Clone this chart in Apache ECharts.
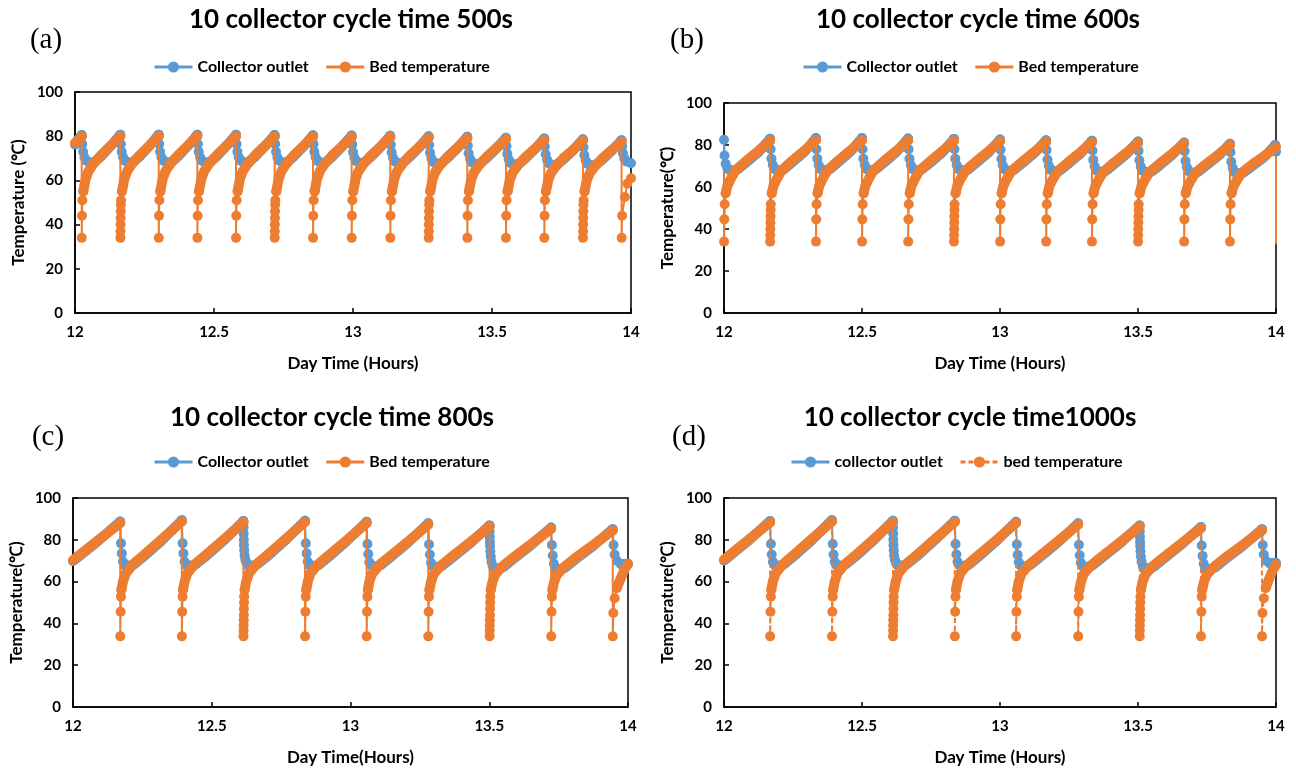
<!DOCTYPE html>
<html>
<head>
<meta charset="utf-8">
<script src="https://cdn.jsdelivr.net/npm/echarts@6/dist/echarts.min.js"></script>
<style>
html,body{margin:0;padding:0;background:#fff;}
#main{width:1296px;height:768px;}
</style>
</head>
<body>
<div id="main"></div>
<script>
// ---------------- DATA (time in hours, temperature in °C) ----------------
var panelLabels = ['(a)', '(b)', '(c)', '(d)'];
var panelTitles = ['10 collector cycle time 500s', '10 collector cycle time 600s', '10 collector cycle time 800s', '10 collector cycle time1000s'];
var collectorNames = ['Collector outlet', 'Collector outlet', 'Collector outlet', 'collector outlet'];
var bedNames = ['Bed temperature', 'Bed temperature', 'Bed temperature', 'bed temperature'];
var xAxisNames = ['Day Time (Hours)', 'Day Time (Hours)', 'Day Time(Hours)', 'Day Time (Hours)'];
var yAxisNames = ['Temperature (℃)', 'Temperature(℃)', 'Temperature(℃)', 'Temperature(℃)'];
var xTicks = [12, 12.5, 13, 13.5, 14];
var yTicks = [0, 20, 40, 60, 80, 100];

// ---- (a) 500 s ----
var aCollectorBand = [
[12.0,76.2],[12.012,78.4],[12.024,80.5],null,
[12.04,69],[12.054,68],[12.069,68.3],[12.094,70.9],[12.129,75.6],[12.163,80.7],null,
[12.179,69],[12.193,68],[12.208,68.3],[12.233,70.9],[12.268,75.6],[12.301,80.7],null,
[12.317,69],[12.331,68],[12.346,68.3],[12.371,70.9],[12.406,75.6],[12.44,80.6],null,
[12.456,69],[12.47,68],[12.485,68.3],[12.51,70.9],[12.545,75.6],[12.579,80.6],null,
[12.595,69],[12.609,68],[12.624,68.3],[12.649,70.9],[12.684,75.5],[12.718,80.5],null,
[12.734,69],[12.748,68],[12.763,68.3],[12.788,70.9],[12.823,75.5],[12.856,80.4],null,
[12.872,68.9],[12.886,67.9],[12.901,68.2],[12.926,70.8],[12.961,75.3],[12.995,80.3],null,
[13.011,68.8],[13.025,67.8],[13.04,68.1],[13.065,70.7],[13.1,75.2],[13.134,80.2],null,
[13.15,68.7],[13.164,67.7],[13.179,68],[13.204,70.6],[13.239,75.1],[13.272,80],null,
[13.288,68.5],[13.302,67.5],[13.317,67.8],[13.342,70.4],[13.377,74.8],[13.411,79.7],null,
[13.427,68.3],[13.441,67.3],[13.456,67.6],[13.481,70.1],[13.516,74.5],[13.55,79.3],null,
[13.566,68],[13.58,67.1],[13.595,67.4],[13.62,69.9],[13.655,74.2],[13.688,79],null,
[13.704,67.8],[13.718,66.9],[13.733,67.2],[13.758,69.6],[13.793,73.8],[13.827,78.6],null,
[13.843,67.6],[13.857,66.7],[13.872,67],[13.897,69.4],[13.932,73.6],[13.966,78.2]
];
var aCollectorDrop = [
[12.024,80.5],[12.026,76.5],[12.029,73],[12.034,70.5],[12.04,69],null,
[12.163,80.7],[12.165,76.5],[12.168,73],[12.173,70.5],[12.179,69],null,
[12.301,80.7],[12.303,76.5],[12.306,73],[12.311,70.5],[12.317,69],null,
[12.44,80.6],[12.442,76.5],[12.445,73],[12.45,70.5],[12.456,69],null,
[12.579,80.6],[12.581,76.5],[12.584,73],[12.589,70.5],[12.595,69],null,
[12.718,80.5],[12.72,76.5],[12.723,73],[12.728,70.5],[12.734,69],null,
[12.856,80.4],[12.858,76.4],[12.861,72.9],[12.866,70.4],[12.872,68.9],null,
[12.995,80.3],[12.997,76.3],[13.0,72.8],[13.005,70.3],[13.011,68.8],null,
[13.134,80.2],[13.136,76.2],[13.139,72.7],[13.144,70.2],[13.15,68.7],null,
[13.272,80],[13.274,76],[13.277,72.5],[13.282,70],[13.288,68.5],null,
[13.411,79.7],[13.413,75.8],[13.416,72.3],[13.421,69.8],[13.427,68.3],null,
[13.55,79.3],[13.552,75.5],[13.555,72],[13.56,69.5],[13.566,68],null,
[13.688,79],[13.69,75.3],[13.693,71.8],[13.698,69.3],[13.704,67.8],null,
[13.827,78.6],[13.829,75],[13.832,71.5],[13.837,69],[13.843,67.6],null,
[13.966,78.2],[13.968,75.5],[13.971,72.3],[13.976,70],[13.985,68.5],[14.0,67.8]
];
var aBedBand = [
[12.0,77.0],[12.012,78.4],[12.024,79.8],null,
[12.03,55],[12.038,60.5],[12.048,64],[12.066,67.5],[12.094,71.5],[12.129,75.8],[12.163,80.0],null,
[12.169,55],[12.177,60.5],[12.187,64],[12.205,67.5],[12.233,71.5],[12.268,75.8],[12.301,80.0],null,
[12.307,55],[12.315,60.5],[12.325,64],[12.343,67.5],[12.371,71.5],[12.406,75.8],[12.44,80.0],null,
[12.446,55],[12.454,60.5],[12.464,64],[12.482,67.5],[12.51,71.5],[12.545,75.8],[12.579,80.0],null,
[12.585,55],[12.593,60.5],[12.603,64],[12.621,67.5],[12.649,71.5],[12.684,75.7],[12.718,79.8],null,
[12.724,55],[12.732,60.5],[12.742,64],[12.76,67.5],[12.788,71.5],[12.823,75.7],[12.856,79.8],null,
[12.862,55],[12.87,60.5],[12.88,64],[12.898,67.4],[12.926,71.4],[12.961,75.5],[12.995,79.6],null,
[13.001,55],[13.009,60.5],[13.019,64],[13.037,67.3],[13.065,71.3],[13.1,75.4],[13.134,79.5],null,
[13.14,55],[13.148,60.5],[13.158,64],[13.176,67.2],[13.204,71.2],[13.239,75.3],[13.272,79.3],null,
[13.278,55],[13.286,60.5],[13.296,63.8],[13.314,67],[13.342,71],[13.377,75],[13.411,79.0],null,
[13.417,55],[13.425,60.3],[13.435,63.6],[13.453,66.8],[13.481,70.7],[13.516,74.7],[13.55,78.6],null,
[13.556,55],[13.564,60.2],[13.574,63.5],[13.592,66.6],[13.62,70.5],[13.655,74.4],[13.688,78.3],null,
[13.694,55],[13.702,60],[13.712,63.3],[13.73,66.4],[13.758,70.2],[13.793,74],[13.827,77.9],null,
[13.833,55],[13.841,60],[13.851,63.2],[13.869,66.2],[13.897,70],[13.932,73.8],[13.966,77.5]
];
var aBedDrop = [
[12.024,79.8],[12.0243,34],[12.0252,44],[12.0265,51],[12.03,55],null,
[12.163,80],[12.1633,34],[12.1636,37],[12.1639,40],[12.1642,43],[12.1646,46],[12.165,49],[12.1655,51],[12.169,55],null,
[12.301,80],[12.3013,34],[12.3022,44],[12.3035,51],[12.307,55],null,
[12.44,80],[12.4403,34],[12.4412,44],[12.4425,51],[12.446,55],null,
[12.579,80],[12.5793,34],[12.5802,44],[12.5815,51],[12.585,55],null,
[12.718,79.8],[12.7183,34],[12.7186,37],[12.7189,40],[12.7192,43],[12.7196,46],[12.72,49],[12.7205,51],[12.724,55],null,
[12.856,79.8],[12.8563,34],[12.8572,44],[12.8585,51],[12.862,55],null,
[12.995,79.6],[12.9953,34],[12.9962,44],[12.9975,51],[13.001,55],null,
[13.134,79.5],[13.1343,34],[13.1352,44],[13.1365,51],[13.14,55],null,
[13.272,79.3],[13.2723,34],[13.2726,37],[13.2729,40],[13.2732,43],[13.2736,46],[13.274,49],[13.2745,51],[13.278,55],null,
[13.411,79],[13.4113,34],[13.4122,44],[13.4135,51],[13.417,55],null,
[13.55,78.6],[13.5503,34],[13.5512,44],[13.5525,51],[13.556,55],null,
[13.688,78.3],[13.6883,34],[13.6892,44],[13.6905,51],[13.694,55],null,
[13.827,77.9],[13.8273,34],[13.8276,37],[13.8279,40],[13.8282,43],[13.8286,46],[13.829,49],[13.8295,51],[13.833,55],null,
[13.966,77.5],[13.9663,34],[13.968,44],[13.978,52.5],[13.987,58.5],[14.0,61]
];

// ---- (b) 600 s ----
var bCollectorBand = [
[12.018,68.3],[12.033,67.8],[12.05,68.4],[12.08,71.6],[12.125,76.6],[12.167,83],null,
[12.185,68.5],[12.2,67.8],[12.217,68.4],[12.247,71.7],[12.292,76.8],[12.333,83.3],null,
[12.351,68.5],[12.366,67.8],[12.383,68.4],[12.413,71.7],[12.458,76.8],[12.5,83.3],null,
[12.518,68.5],[12.533,67.8],[12.55,68.4],[12.58,71.6],[12.625,76.7],[12.667,83.1],null,
[12.685,68.5],[12.7,67.8],[12.717,68.4],[12.747,71.5],[12.792,76.6],[12.833,82.9],null,
[12.851,68.5],[12.866,67.7],[12.883,68.2],[12.913,71.4],[12.958,76.4],[13.0,82.6],null,
[13.018,68.3],[13.033,67.5],[13.05,68],[13.08,71.2],[13.125,76.2],[13.167,82.3],null,
[13.185,68.1],[13.2,67.3],[13.217,67.8],[13.247,71],[13.292,76],[13.333,82],null,
[13.351,67.9],[13.366,67.1],[13.383,67.6],[13.413,70.8],[13.458,75.7],[13.5,81.7],null,
[13.518,67.7],[13.533,66.9],[13.55,67.4],[13.58,70.5],[13.625,75.4],[13.667,81.2],null,
[13.685,67.4],[13.7,66.6],[13.717,67.1],[13.747,70.2],[13.792,74.9],[13.833,80.6],null,
[13.851,67],[13.866,66.4],[13.883,66.9],[13.913,69.9],[13.958,74.3],[13.997,80]
];
var bCollectorDrop = [
[12.0,82.5],[12.002,75],[12.006,71],[12.012,69],[12.018,68.3],null,
[12.167,83],[12.169,78],[12.172,73.5],[12.177,70.5],[12.185,68.5],null,
[12.333,83.3],[12.335,78],[12.338,73.5],[12.343,70.5],[12.351,68.5],null,
[12.5,83.3],[12.502,78],[12.505,73.5],[12.51,70.5],[12.518,68.5],null,
[12.667,83.1],[12.669,78],[12.672,73.5],[12.677,70.5],[12.685,68.5],null,
[12.833,82.9],[12.835,78],[12.838,73.5],[12.843,70.5],[12.851,68.5],null,
[13.0,82.6],[13.002,77.8],[13.005,73.3],[13.01,70.3],[13.018,68.3],null,
[13.167,82.3],[13.169,77.6],[13.172,73.1],[13.177,70.1],[13.185,68.1],null,
[13.333,82],[13.335,77.4],[13.338,72.9],[13.343,69.9],[13.351,67.9],null,
[13.5,81.7],[13.502,77.2],[13.505,72.7],[13.51,69.7],[13.518,67.7],null,
[13.667,81.2],[13.669,77],[13.672,72.4],[13.677,69.4],[13.685,67.4],null,
[13.833,80.6],[13.835,76.6],[13.838,72],[13.843,69],[13.851,67],null,
[13.997,80],[14.0,76.8]
];
var bBedBand = [
[12.006,57],[12.012,60.5],[12.025,64],[12.042,68],[12.08,72.4],[12.125,77.2],[12.167,82],null,
[12.173,57],[12.179,60.5],[12.192,64],[12.209,68],[12.247,72.5],[12.292,77.4],[12.333,82.3],null,
[12.339,57],[12.345,60.5],[12.358,64],[12.375,68],[12.413,72.5],[12.458,77.4],[12.5,82.3],null,
[12.506,57],[12.512,60.5],[12.525,64],[12.542,68],[12.58,72.4],[12.625,77.3],[12.667,82.2],null,
[12.673,57],[12.679,60.5],[12.692,64],[12.709,68],[12.747,72.3],[12.792,77.2],[12.833,82],null,
[12.839,57],[12.845,60.5],[12.858,64],[12.875,67.8],[12.913,72.2],[12.958,77],[13.0,81.8],null,
[13.006,57],[13.012,60.5],[13.025,64],[13.042,67.7],[13.08,72],[13.125,76.8],[13.167,81.5],null,
[13.173,57],[13.179,60.5],[13.192,63.8],[13.209,67.5],[13.247,71.8],[13.292,76.6],[13.333,81.3],null,
[13.339,57],[13.345,60.3],[13.358,63.6],[13.375,67.3],[13.413,71.6],[13.458,76.3],[13.5,81],null,
[13.506,57],[13.512,60.2],[13.525,63.5],[13.542,67.1],[13.58,71.3],[13.625,76],[13.667,80.6],null,
[13.673,57],[13.679,60],[13.692,63.3],[13.709,66.9],[13.747,71],[13.792,75.5],[13.833,80],null,
[13.839,57],[13.845,60],[13.858,63.2],[13.875,66.7],[13.913,70.7],[13.958,74.8],[14.0,79]
];
var bBedDrop = [
[12.0003,34],[12.0012,44.6],[12.0025,51.8],[12.006,57],null,
[12.167,82],[12.1673,34],[12.1676,37],[12.1679,40],[12.1682,43],[12.1686,46],[12.169,49],[12.1695,51.8],[12.173,57],null,
[12.333,82.3],[12.3333,34],[12.3342,44.6],[12.3355,51.8],[12.339,57],null,
[12.5,82.3],[12.5003,34],[12.5012,44.6],[12.5025,51.8],[12.506,57],null,
[12.667,82.2],[12.6673,34],[12.6682,44.6],[12.6695,51.8],[12.673,57],null,
[12.833,82],[12.8333,34],[12.8336,37],[12.8339,40],[12.8342,43],[12.8346,46],[12.835,49],[12.8355,51.8],[12.839,57],null,
[13.0,81.8],[13.0003,34],[13.0012,44.6],[13.0025,51.8],[13.006,57],null,
[13.167,81.5],[13.1673,34],[13.1682,44.6],[13.1695,51.8],[13.173,57],null,
[13.333,81.3],[13.3333,34],[13.3342,44.6],[13.3355,51.8],[13.339,57],null,
[13.5,81],[13.5003,34],[13.5006,37],[13.5009,40],[13.5012,43],[13.5016,46],[13.502,49],[13.5025,51.8],[13.506,57],null,
[13.667,80.6],[13.6673,34],[13.6682,44.6],[13.6695,51.8],[13.673,57],null,
[13.833,80],[13.8333,34],[13.8342,44.6],[13.8355,51.8],[13.839,57],null
];
// line-only drops at the two edges of the 600 s panel
var bBedEdge = [[12.0,80.5],[12.0003,34],null,[14.0,79],[14.0,33]];

// ---- (c) 800 s ----
var cCollectorBand = [
[12.0,69.8],[12.085,78.8],[12.17,88.7],null,
[12.186,68],[12.2,67.5],[12.22,68.2],[12.254,71.9],[12.32,79.7],[12.392,89.4],null,
[12.408,68],[12.422,67.5],[12.442,68.2],[12.476,71.8],[12.542,79.5],[12.614,89],null,
[12.63,68],[12.644,67.5],[12.664,68.2],[12.698,71.8],[12.764,79.6],[12.836,89.1],null,
[12.852,68],[12.866,67.4],[12.886,68],[12.92,71.7],[12.986,79.3],[13.058,88.6],null,
[13.074,67.8],[13.088,67.2],[13.108,67.8],[13.142,71.4],[13.208,78.8],[13.28,87.9],null,
[13.296,67.5],[13.31,66.9],[13.33,67.5],[13.364,71.1],[13.43,78.2],[13.501,86.9],null,
[13.517,66.5],[13.531,66.2],[13.551,66.9],[13.585,70.6],[13.651,77.5],[13.723,85.9],null,
[13.739,66.3],[13.753,65.8],[13.773,66.6],[13.807,70.3],[13.873,76.9],[13.945,85.1],null,
[13.975,68.3],[14.0,68.6]
];
var cCollectorDrop = [
[12.17,88.7],[12.173,78.3],[12.176,73.5],[12.18,69.5],[12.186,68],null,
[12.392,89.4],[12.395,78.3],[12.398,73.5],[12.402,69.5],[12.408,68],null,
[12.614,89],[12.6145,86],[12.615,83],[12.6155,80],[12.616,77.5],[12.617,75],[12.6185,72.5],[12.621,70.5],[12.625,69],[12.63,68],null,
[12.836,89.1],[12.839,78.3],[12.842,73.5],[12.846,69.5],[12.852,68],null,
[13.058,88.6],[13.061,78],[13.064,73.2],[13.068,69.2],[13.074,67.8],null,
[13.28,87.9],[13.283,77.8],[13.286,73],[13.29,69],[13.296,67.5],null,
[13.501,86.9],[13.5015,84],[13.502,81.5],[13.5025,79],[13.503,77],[13.504,74.5],[13.5055,72],[13.508,69.5],[13.512,67.5],[13.517,66.5],null,
[13.723,85.9],[13.726,77.5],[13.729,72.5],[13.733,68.5],[13.739,66.3],null,
[13.945,85.1],[13.948,77.5],[13.952,73],[13.96,70],[13.975,68.3]
];
var cBedBand = [
[12.0,70.3],[12.085,79.2],[12.17,88],null,
[12.1745,56],[12.18,60],[12.19,64],[12.218,68.5],[12.254,72.6],[12.32,80.3],[12.392,88.8],null,
[12.3965,56],[12.402,60],[12.412,64],[12.44,68.5],[12.476,72.5],[12.542,80],[12.614,88.3],null,
[12.6185,56],[12.624,60],[12.634,64],[12.662,68.5],[12.698,72.5],[12.764,80.1],[12.836,88.5],null,
[12.8405,56],[12.846,60],[12.856,64],[12.884,68.4],[12.92,72.4],[12.986,79.8],[13.058,88],null,
[13.0625,56],[13.068,60],[13.078,63.8],[13.106,68.2],[13.142,72.1],[13.208,79.3],[13.28,87.3],null,
[13.2845,56],[13.29,59.8],[13.3,63.6],[13.328,67.9],[13.364,71.8],[13.43,78.7],[13.501,86.3],null,
[13.5055,56],[13.511,59.6],[13.521,63.3],[13.549,67.5],[13.585,71.3],[13.651,78],[13.723,85.3],null,
[13.7275,56],[13.733,59.5],[13.743,63.1],[13.771,67.2],[13.807,71],[13.873,77.4],[13.945,84.5],null,
[13.96,57],[13.975,62],[13.99,66.5],[14.0,68.3]
];
var cBedDrop = [
[12.17,88],[12.1703,33.8],[12.1715,45.6],[12.1728,52.8],[12.1745,56],null,
[12.392,88.8],[12.3923,33.8],[12.3935,45.6],[12.3948,52.8],[12.3965,56],null,
[12.614,88.3],[12.6143,33.8],[12.6146,36.5],[12.6149,39],[12.6152,41.5],[12.6155,44],[12.6159,47],[12.6163,50],[12.6168,52.8],[12.6185,56],null,
[12.836,88.5],[12.8363,33.8],[12.8375,45.6],[12.8388,52.8],[12.8405,56],null,
[13.058,88],[13.0583,33.8],[13.0595,45.6],[13.0608,52.8],[13.0625,56],null,
[13.28,87.3],[13.2803,33.8],[13.2815,45.6],[13.2828,52.8],[13.2845,56],null,
[13.501,86.3],[13.5013,33.8],[13.5016,36.5],[13.5019,39],[13.5022,41.5],[13.5025,44],[13.5029,47],[13.5033,50],[13.5038,52.8],[13.5055,56],null,
[13.723,85.3],[13.7233,33.8],[13.7245,45.6],[13.7258,52.8],[13.7275,56],null,
[13.945,84.5],[13.9453,33.8],[13.947,45],[13.952,52],[13.96,57]
];

// ---- (d) 1000 s ----
var dCollectorBand = [
[12.0,70],[12.085,79.2],[12.167,89],null,
[12.183,68],[12.197,67.5],[12.217,68.2],[12.251,71.9],[12.317,79.7],[12.391,89.4],null,
[12.407,68],[12.421,67.5],[12.441,68.2],[12.475,71.8],[12.541,79.6],[12.612,89.1],null,
[12.628,68],[12.642,67.5],[12.662,68.2],[12.696,71.8],[12.762,79.6],[12.836,89.1],null,
[12.852,68],[12.866,67.4],[12.886,68],[12.92,71.7],[12.986,79.3],[13.058,88.6],null,
[13.074,67.8],[13.088,67.2],[13.108,67.8],[13.142,71.4],[13.21,78.8],[13.283,87.9],null,
[13.299,67.5],[13.313,66.9],[13.333,67.5],[13.367,71.1],[13.434,78.2],[13.506,86.9],null,
[13.522,66.5],[13.536,66.2],[13.556,66.9],[13.59,70.6],[13.656,77.6],[13.728,86.1],null,
[13.744,66.3],[13.758,65.8],[13.778,66.6],[13.812,70.3],[13.878,76.9],[13.949,85.1],null,
[13.977,68.8],[14.0,69]
];
var dCollectorDrop = [
[12.167,89],[12.17,78],[12.173,73],[12.177,69.5],[12.183,68],null,
[12.391,89.4],[12.394,78],[12.397,73],[12.401,69.5],[12.407,68],null,
[12.612,89.1],[12.6125,86],[12.613,83],[12.6135,80],[12.614,77.5],[12.615,75],[12.6165,72.5],[12.619,70.5],[12.623,69],[12.628,68],null,
[12.836,89.1],[12.839,78],[12.842,73],[12.846,69.5],[12.852,68],null,
[13.058,88.6],[13.061,77.8],[13.064,72.8],[13.068,69.2],[13.074,67.8],null,
[13.283,87.9],[13.286,77.6],[13.289,72.6],[13.293,69],[13.299,67.5],null,
[13.506,86.9],[13.5065,84],[13.507,81.5],[13.5075,79],[13.508,77],[13.509,74.5],[13.5105,72],[13.513,69.5],[13.517,67.5],[13.522,66.5],null,
[13.728,86.1],[13.731,77.3],[13.734,72.3],[13.738,68.5],[13.744,66.3],null,
[13.949,85.1],[13.952,77.5],[13.956,73],[13.963,70],[13.977,68.8]
];
var dBedBand = [
[12.0,70.5],[12.085,79.6],[12.167,88.3],null,
[12.1715,56],[12.177,60],[12.187,64],[12.215,68.5],[12.251,72.6],[12.317,80.3],[12.391,88.8],null,
[12.3955,56],[12.401,60],[12.411,64],[12.439,68.5],[12.475,72.5],[12.541,80.1],[12.612,88.5],null,
[12.6165,56],[12.622,60],[12.632,64],[12.66,68.5],[12.696,72.5],[12.762,80.1],[12.836,88.5],null,
[12.8405,56],[12.846,60],[12.856,64],[12.884,68.4],[12.92,72.4],[12.986,79.8],[13.058,88],null,
[13.0625,56],[13.068,60],[13.078,63.8],[13.106,68.2],[13.142,72.1],[13.21,79.3],[13.283,87.3],null,
[13.2875,56],[13.293,59.8],[13.303,63.6],[13.331,67.9],[13.367,71.8],[13.434,78.7],[13.506,86.3],null,
[13.5105,56],[13.516,59.6],[13.526,63.3],[13.554,67.5],[13.59,71.3],[13.656,78.1],[13.728,85.5],null,
[13.7325,56],[13.738,59.5],[13.748,63.1],[13.776,67.2],[13.812,71],[13.878,77.4],[13.949,84.5],null,
[13.963,57],[13.977,62],[13.99,66],[14.0,68]
];
var dBedDrop = [
[12.167,88.3],[12.1673,33.8],[12.1685,45.6],[12.1698,52.8],[12.1715,56],null,
[12.391,88.8],[12.3913,33.8],[12.3925,45.6],[12.3938,52.8],[12.3955,56],null,
[12.612,88.5],[12.6123,33.8],[12.6126,36.5],[12.6129,39],[12.6132,41.5],[12.6135,44],[12.6139,47],[12.6143,50],[12.6148,52.8],[12.6165,56],null,
[12.836,88.5],[12.8363,33.8],[12.8375,45.6],[12.8388,52.8],[12.8405,56],null,
[13.058,88],[13.0583,33.8],[13.0595,45.6],[13.0608,52.8],[13.0625,56],null,
[13.283,87.3],[13.2833,33.8],[13.2845,45.6],[13.2858,52.8],[13.2875,56],null,
[13.506,86.3],[13.5063,33.8],[13.5066,36.5],[13.5069,39],[13.5072,41.5],[13.5075,44],[13.5079,47],[13.5083,50],[13.5088,52.8],[13.5105,56],null,
[13.728,85.5],[13.7283,33.8],[13.7295,45.6],[13.7308,52.8],[13.7325,56],null,
[13.949,84.5],[13.9493,33.8],[13.951,45],[13.956,52],[13.963,57]
];

// ---------------- LAYOUT / STYLE ----------------
var BLUE = '#5B9BD5', ORANGE = '#ED7D31';
var SANS = 'Lato, "Open Sans", sans-serif';
var BAND = 10, MARK = 10;
var grids = [
  {left: 75, top: 92, width: 556, height: 221},
  {left: 724, top: 103, width: 552, height: 210},
  {left: 73, top: 498, width: 555, height: 209},
  {left: 724, top: 498, width: 552, height: 209}
];
var titlePos = [[351, 20], [978, 20], [332, 418], [970, 418]];
var labelPos = [[46, 40], [687, 40], [48, 437], [689, 437]];
var legendPos = [[153, 59], [802, 59], [153, 454], [790, 454]];
var panels = [
  [aCollectorBand, aCollectorDrop, aBedBand, aBedDrop],
  [bCollectorBand, bCollectorDrop, bBedBand, bBedDrop],
  [cCollectorBand, cCollectorDrop, cBedBand, cBedDrop],
  [dCollectorBand, dCollectorDrop, dBedBand, dBedDrop]
];

function prep(arr) {
  return arr.map(function (p) { return p === null ? [NaN, NaN] : p; });
}

var series = [];
panels.forEach(function (p, i) {
  var common = {type: 'line', xAxisIndex: i, yAxisIndex: i, clip: false, animation: false, connectNulls: false};
  series.push(Object.assign({}, common, {
    name: 'band-c-' + i, data: prep(p[0]), showSymbol: false, smooth: false,
    lineStyle: {color: BLUE, width: BAND, cap: 'round', join: 'round'}, itemStyle: {color: BLUE}, z: 2
  }));
  series.push(Object.assign({}, common, {
    name: collectorNames[i], data: prep(p[1]), symbol: 'circle', symbolSize: MARK, showSymbol: true, showAllSymbol: true,
    lineStyle: {color: BLUE, width: 2}, itemStyle: {color: BLUE}, z: 3
  }));
  series.push(Object.assign({}, common, {
    name: 'band-b-' + i, data: prep(p[2]), showSymbol: false, smooth: false,
    lineStyle: {color: ORANGE, width: BAND, cap: 'round', join: 'round'}, itemStyle: {color: ORANGE}, z: 4
  }));
  series.push(Object.assign({}, common, {
    name: bedNames[i], data: prep(p[3]), symbol: 'circle', symbolSize: MARK, showSymbol: true, showAllSymbol: true,
    lineStyle: {color: ORANGE, width: 2, type: i === 3 ? [5, 3] : 'solid'}, itemStyle: {color: ORANGE}, z: 5
  }));
});
series.push({type: 'line', name: 'edge-b', xAxisIndex: 1, yAxisIndex: 1, data: prep(bBedEdge), clip: false,
  connectNulls: false, showSymbol: false, lineStyle: {color: ORANGE, width: 2}, z: 1});

var graphic = [];
panels.forEach(function (p, i) {
  graphic.push({type: 'text', x: titlePos[i][0], y: titlePos[i][1], silent: true,
    style: {text: panelTitles[i], font: 'bold 26px ' + SANS, fill: '#000', textAlign: 'center', textVerticalAlign: 'middle'}});
  graphic.push({type: 'text', x: labelPos[i][0], y: labelPos[i][1], silent: true,
    style: {text: panelLabels[i], font: '29px "Liberation Serif", "DejaVu Serif", serif', fill: '#000', textAlign: 'center', textVerticalAlign: 'middle'}});
});

var option = {
  animation: false,
  backgroundColor: '#fff',
  grid: grids.map(function (g) {
    return Object.assign({show: true, borderColor: '#000', borderWidth: 1.5, backgroundColor: 'rgba(0,0,0,0)', containLabel: false}, g);
  }),
  xAxis: grids.map(function (g, i) {
    return {
      gridIndex: i, type: 'value', min: xTicks[0], max: xTicks[xTicks.length - 1], interval: xTicks[1] - xTicks[0],
      axisLine: {show: true, onZero: false, lineStyle: {color: '#000', width: 1.5}},
      axisTick: {show: true, inside: true, length: 5, lineStyle: {color: '#000', width: 1.5}},
      axisLabel: {fontFamily: SANS, fontWeight: 'bold', fontSize: 15, color: '#000', margin: 12},
      splitLine: {show: false},
      name: xAxisNames[i], nameLocation: 'middle', nameGap: 42,
      nameTextStyle: {fontFamily: SANS, fontWeight: 'bold', fontSize: 17, color: '#000'}
    };
  }),
  yAxis: grids.map(function (g, i) {
    return {
      gridIndex: i, type: 'value', min: yTicks[0], max: yTicks[yTicks.length - 1], interval: yTicks[1] - yTicks[0],
      axisLine: {show: true, lineStyle: {color: '#000', width: 1.5}},
      axisTick: {show: true, inside: true, length: 5, lineStyle: {color: '#000', width: 1.5}},
      axisLabel: {fontFamily: SANS, fontWeight: 'bold', fontSize: 15, color: '#000', margin: 12},
      splitLine: {show: false},
      name: yAxisNames[i], nameLocation: 'middle', nameGap: 48,
      nameTextStyle: {fontFamily: SANS, fontWeight: 'bold', fontSize: 17, color: '#000'}
    };
  }),
  legend: grids.map(function (g, i) {
    return {
      data: [collectorNames[i], bedNames[i]], left: legendPos[i][0], top: legendPos[i][1], padding: 0,
      itemWidth: 38, itemHeight: 14, itemGap: 16, selectedMode: false,
      lineStyle: {width: 3},
      textStyle: {fontFamily: SANS, fontWeight: 'bold', fontSize: 16, color: '#000'}
    };
  }),
  graphic: graphic,
  series: series
};

var chart = echarts.init(document.getElementById('main'), null, {renderer: 'canvas'});
chart.setOption(option);
</script>
</body>
</html>
